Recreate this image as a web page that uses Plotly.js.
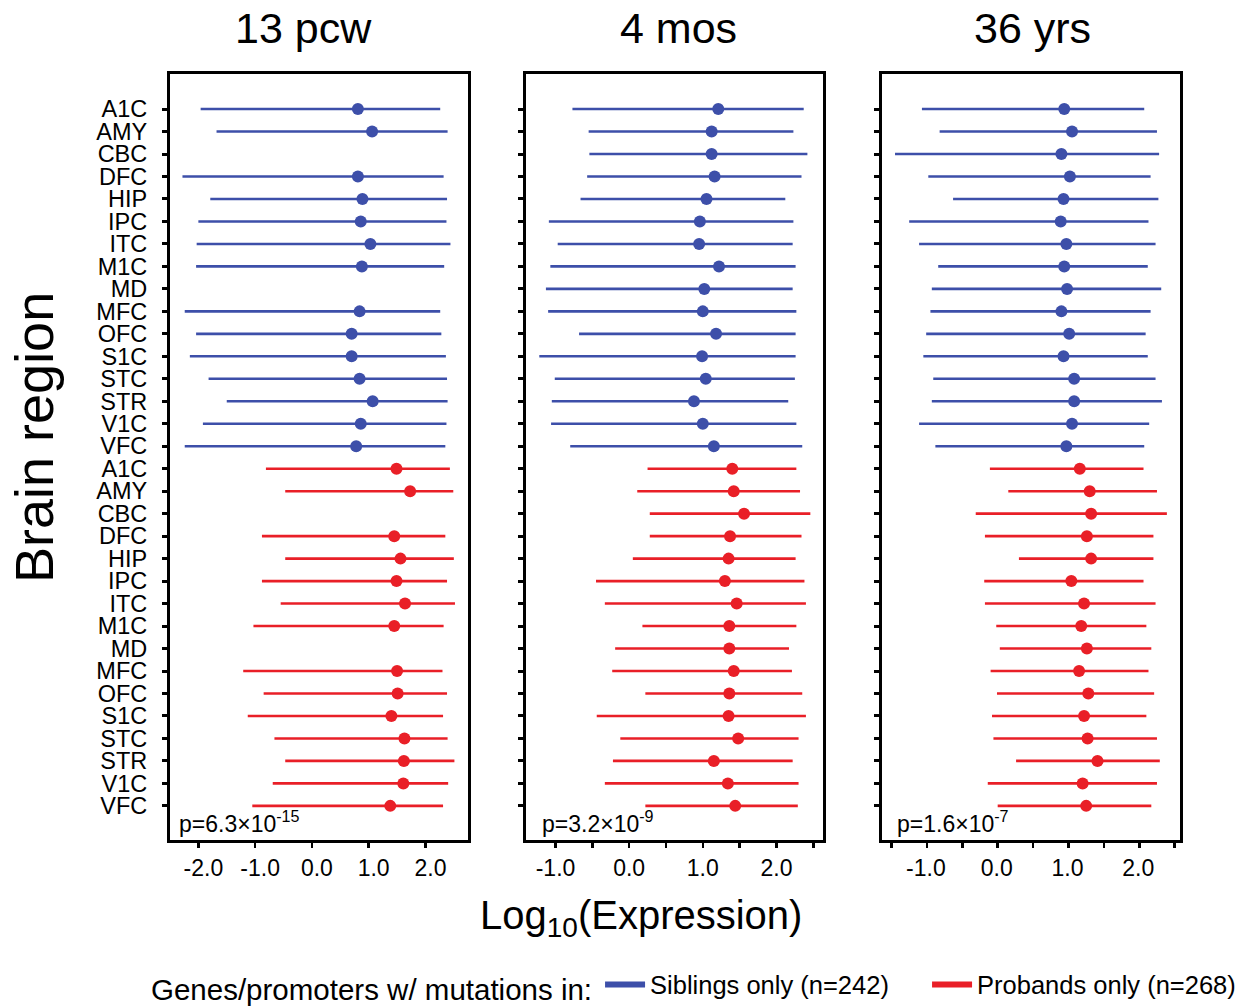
<!DOCTYPE html>
<html>
<head>
<meta charset="utf-8">
<script src="https://cdn.plot.ly/plotly-3.0.1.min.js"></script>
<style>
  html, body { margin: 0; padding: 0; background: #ffffff; }
  #chart { width: 1248px; height: 1007px; }
</style>
</head>
<body>
<div id="chart"></div>
<script>
// Brain regions (BrainSpan abbreviations), listed top to bottom in each group
const regions = ['A1C','AMY','CBC','DFC','HIP','IPC','ITC','M1C','MD','MFC','OFC','S1C','STC','STR','V1C','VFC'];

// Developmental stages shown as panels
const stages = ['13 pcw', '4 mos', '36 yrs'];
const pValues = ['p=6.3×10<sup>-15</sup>', 'p=3.2×10<sup>-9</sup>', 'p=1.6×10<sup>-7</sup>'];

// Siblings-only genes: lower end, centre, upper end of log10 expression
const sib13pcwLo  = [-1.96,-1.68,null,-2.28,-1.79,-2.00,-2.03,-2.04,null,-2.24,-2.04,-2.15,-1.82,-1.50,-1.92,-2.24];
const sib13pcwMid = [0.81,1.06,null,0.81,0.89,0.86,1.03,0.88,null,0.84,0.70,0.70,0.84,1.07,0.86,0.78];
const sib13pcwHi  = [2.26,2.39,null,2.32,2.38,2.37,2.44,2.33,null,2.26,2.28,2.36,2.38,2.39,2.37,2.35];

const sib4mosLo  = [-0.77,-0.55,-0.54,-0.57,-0.66,-1.09,-0.97,-1.07,-1.13,-1.10,-0.68,-1.22,-1.01,-1.05,-1.06,-0.80];
const sib4mosMid = [1.21,1.12,1.12,1.16,1.05,0.96,0.95,1.22,1.02,1.00,1.18,0.99,1.04,0.88,1.00,1.15];
const sib4mosHi  = [2.37,2.23,2.42,2.34,2.12,2.23,2.22,2.26,2.22,2.27,2.26,2.26,2.25,2.16,2.27,2.35];

const sib36yrsLo  = [-1.07,-0.82,-1.45,-0.98,-0.63,-1.25,-1.11,-0.84,-0.93,-0.95,-1.01,-1.05,-0.91,-0.93,-1.11,-0.88];
const sib36yrsMid = [0.94,1.05,0.90,1.02,0.93,0.89,0.97,0.94,0.98,0.90,1.01,0.93,1.08,1.08,1.05,0.97];
const sib36yrsHi  = [2.07,2.25,2.28,2.16,2.27,2.13,2.23,2.12,2.31,2.16,2.09,2.12,2.23,2.32,2.14,2.07];

// Probands-only genes
const pro13pcwLo  = [-0.81,-0.47,null,-0.88,-0.47,-0.88,-0.55,-1.03,null,-1.21,-0.85,-1.13,-0.66,-0.47,-0.69,-1.05];
const pro13pcwMid = [1.49,1.73,null,1.45,1.56,1.49,1.64,1.45,null,1.50,1.51,1.40,1.63,1.62,1.61,1.38];
const pro13pcwHi  = [2.43,2.49,null,2.35,2.50,2.38,2.52,2.32,null,2.30,2.38,2.31,2.39,2.51,2.40,2.31];

const pro4mosLo  = [0.25,0.11,0.28,0.28,0.05,-0.45,-0.33,0.18,-0.19,-0.23,0.22,-0.44,-0.12,-0.22,-0.33,0.22];
const pro4mosMid = [1.40,1.42,1.56,1.37,1.35,1.30,1.46,1.36,1.36,1.42,1.36,1.35,1.48,1.15,1.34,1.44];
const pro4mosHi  = [2.27,2.32,2.46,2.34,2.26,2.38,2.40,2.27,2.17,2.21,2.35,2.40,2.30,2.22,2.30,2.29];

const pro36yrsLo  = [-0.11,0.15,-0.31,-0.18,0.30,-0.19,-0.18,-0.02,0.03,-0.10,-0.01,-0.08,-0.06,0.26,-0.14,0.00];
const pro36yrsMid = [1.16,1.30,1.32,1.26,1.32,1.04,1.22,1.18,1.26,1.15,1.28,1.22,1.27,1.41,1.20,1.25];
const pro36yrsHi  = [2.06,2.25,2.39,2.20,2.20,2.06,2.23,2.10,2.17,2.13,2.21,2.10,2.25,2.29,2.25,2.17];

// x-axis labelled ticks and unlabelled half-step ticks per panel
const ticks13pcw = [-2, -1, 0, 1, 2];
const labels13pcw = ['-2.0', '-1.0', '0.0', '1.0', '2.0'];
const minor13pcw = [];
const ticks4mos = [-1, 0, 1, 2];
const labels4mos = ['-1.0', '0.0', '1.0', '2.0'];
const minor4mos = [-0.5, 0.5, 1.5, 2.5];
const ticks36yrs = [-1, 0, 1, 2];
const labels36yrs = ['-1.0', '0.0', '1.0', '2.0'];
const minor36yrs = [-1.5, -0.5, 0.5, 1.5, 2.5];

const BLUE = '#3d4fa9';
const RED = '#e91f27';
const FONT = '"Liberation Sans", Arial, Helvetica, sans-serif';

const panels = [
  { sib: [sib13pcwLo, sib13pcwMid, sib13pcwHi], pro: [pro13pcwLo, pro13pcwMid, pro13pcwHi],
    range: [-2.5, 2.745], ticks: ticks13pcw, labels: labels13pcw, minor: minor13pcw,
    domain: [0.1362, 0.3748], shift: 5 },
  { sib: [sib4mosLo, sib4mosMid, sib4mosHi], pro: [pro4mosLo, pro4mosMid, pro4mosHi],
    range: [-1.40, 2.636], ticks: ticks4mos, labels: labels4mos, minor: minor4mos,
    domain: [0.4215, 0.6597], shift: 0 },
  { sib: [sib36yrsLo, sib36yrsMid, sib36yrsHi], pro: [pro36yrsLo, pro36yrsMid, pro36yrsHi],
    range: [-1.638, 2.575], ticks: ticks36yrs, labels: labels36yrs, minor: minor36yrs,
    domain: [0.7065, 0.9455], shift: -1 }
];

// row index: siblings occupy rows 0-15, probands rows 16-31
const sibRows = regions.map((_, i) => i);
const proRows = regions.map((_, i) => i + regions.length);
const rowLabels = regions.concat(regions);
const rowTicks = sibRows.concat(proRows);

function rangeTrace(series, rows, color, axisIdx) {
  const [lo, mid, hi] = series;
  const suffix = axisIdx === 0 ? '' : String(axisIdx + 1);
  return {
    type: 'scatter',
    mode: 'markers',
    x: mid,
    y: rows,
    xaxis: 'x' + suffix,
    yaxis: 'y' + suffix,
    showlegend: false,
    marker: { color: color, size: 12 },
    error_x: {
      type: 'data',
      symmetric: false,
      array: mid.map((m, i) => (m === null ? null : hi[i] - m)),
      arrayminus: mid.map((m, i) => (m === null ? null : m - lo[i])),
      color: color,
      thickness: 2.6,
      width: 0
    },
    hoverinfo: 'x+y'
  };
}

const data = [];
panels.forEach((p, k) => {
  data.push(rangeTrace(p.sib, sibRows, BLUE, k));
  data.push(rangeTrace(p.pro, proRows, RED, k));
});

// legend entries
data.push({ type: 'scatter', mode: 'lines', x: [null], y: [null], name: 'Siblings only (n=242)',
            line: { color: BLUE, width: 6 }, showlegend: true, hoverinfo: 'skip' });
data.push({ type: 'scatter', mode: 'lines', x: [null], y: [null], name: 'Probands only (n=268)',
            line: { color: RED, width: 6 }, showlegend: true, hoverinfo: 'skip' });

const layout = {
  width: 1248,
  height: 1007,
  margin: { l: 0, r: 0, t: 0, b: 0, autoexpand: false },
  paper_bgcolor: '#ffffff',
  plot_bgcolor: '#ffffff',
  font: { family: FONT, color: '#000000', size: 22 },
  showlegend: true,
  legend: {
    orientation: 'h',
    x: 0.1194,
    xanchor: 'left',
    y: 0.021,
    yanchor: 'middle',
    font: { size: 25.5, family: FONT, color: '#000000' },
    title: { text: 'Genes/promoters w/ mutations in:', side: 'left', font: { size: 29.5, family: FONT } },
    itemwidth: 40,
    entrywidth: 272,
    entrywidthmode: 'pixels',
    tracegroupgap: 0
  },
  annotations: []
};

const yRange = [32.52, -1.56];

panels.forEach((p, k) => {
  const suffix = k === 0 ? '' : String(k + 1);
  layout['xaxis' + suffix] = {
    domain: p.domain,
    range: p.range,
    anchor: 'y' + suffix,
    tickmode: 'array',
    tickvals: p.ticks,
    ticktext: p.labels,
    ticks: 'outside',
    ticklen: 5,
    tickwidth: 2.5,
    tickcolor: '#000000',
    minor: { tickmode: 'array', tickvals: p.minor, ticks: 'outside', ticklen: 5, tickwidth: 2.5,
             tickcolor: '#000000', showgrid: false },
    ticklabelshift: p.shift,
    tickfont: { size: 23, family: FONT },
    showline: true,
    linewidth: 3,
    linecolor: '#000000',
    mirror: true,
    showgrid: false,
    zeroline: false,
    fixedrange: true
  };
  layout['yaxis' + suffix] = {
    domain: [0.1658, 0.9265],
    range: yRange,
    anchor: 'x' + suffix,
    tickmode: 'array',
    tickvals: rowTicks,
    ticktext: rowLabels,
    showticklabels: k === 0,
    ticks: 'outside',
    ticklen: 5,
    tickwidth: 3,
    tickcolor: '#000000',
    ticklabelstandoff: 10,
    tickfont: { size: 23.5, family: FONT },
    showline: true,
    linewidth: 3,
    linecolor: '#000000',
    mirror: true,
    showgrid: false,
    zeroline: false,
    fixedrange: true
  };
});

// panel titles
const titleX = [0.2428, 0.5433, 0.8277];
stages.forEach((s, k) => {
  layout.annotations.push({
    text: s, xref: 'paper', yref: 'paper', x: titleX[k], y: 0.972,
    xanchor: 'center', yanchor: 'middle', showarrow: false,
    font: { size: 43, family: FONT }
  });
});

// p-values in the lower-left corner of each panel
const pX = [0.1416, 0.4327, 0.7171];
pValues.forEach((t, k) => {
  layout.annotations.push({
    text: t, xref: 'paper', yref: 'paper', x: pX[k], y: 0.1837,
    xanchor: 'left', yanchor: 'middle', showarrow: false,
    font: { size: 23, family: FONT }
  });
});

// shared axis titles
layout.annotations.push({
  text: 'Log<sub>10</sub>(Expression)', xref: 'paper', yref: 'paper', x: 0.5136, y: 0.088,
  xanchor: 'center', yanchor: 'middle', showarrow: false,
  font: { size: 40, family: FONT }
});
layout.annotations.push({
  text: 'Brain region', xref: 'paper', yref: 'paper', x: 0.0272, y: 0.566,
  xanchor: 'center', yanchor: 'middle', showarrow: false, textangle: -90,
  font: { size: 54, family: FONT }
});

Plotly.newPlot('chart', data, layout, { staticPlot: true, displayModeBar: false });
</script>
</body>
</html>
